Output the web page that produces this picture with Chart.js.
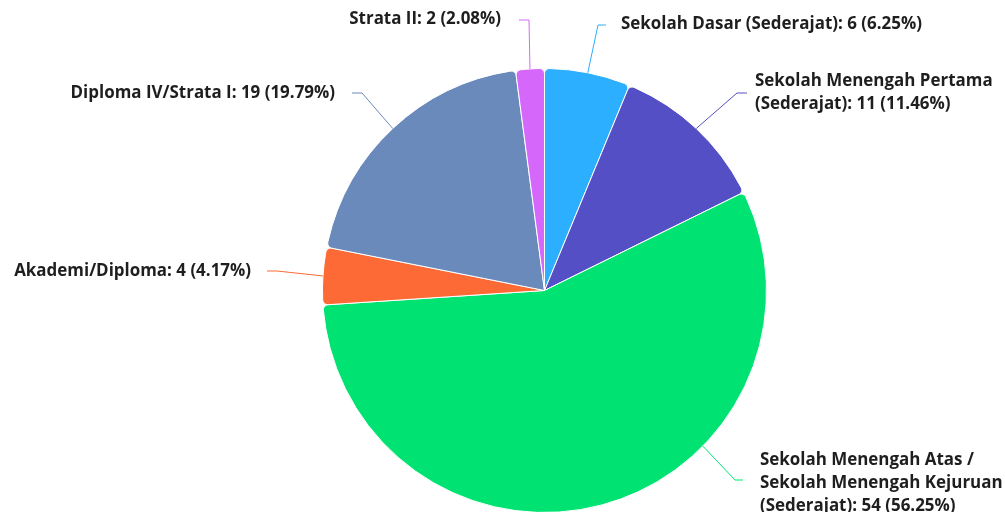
<!DOCTYPE html>
<html>
<head>
<meta charset="utf-8">
<script src="https://cdn.jsdelivr.net/npm/chart.js@4.4.1/dist/chart.umd.min.js"></script>
<style>
html,body{margin:0;padding:0;background:#fff;}
#wrap{width:1005px;height:512px;}
</style>
</head>
<body>
<div id="wrap"><canvas id="c" width="1005" height="512"></canvas></div>
<script>
const categories = [
  "Sekolah Dasar (Sederajat)",
  "Sekolah Menengah Pertama (Sederajat)",
  "Sekolah Menengah Atas / Sekolah Menengah Kejuruan (Sederajat)",
  "Akademi/Diploma",
  "Diploma IV/Strata I",
  "Strata II"
];
const values = [6, 11, 54, 4, 19, 2];
const percentLabels = ["6.25%", "11.46%", "56.25%", "4.17%", "19.79%", "2.08%"];
const labelLines = [
  ["Sekolah Dasar (Sederajat): 6 (6.25%)"],
  ["Sekolah Menengah Pertama", "(Sederajat): 11 (11.46%)"],
  ["Sekolah Menengah Atas /", "Sekolah Menengah Kejuruan", "(Sederajat): 54 (56.25%)"],
  ["Akademi/Diploma: 4 (4.17%)"],
  ["Diploma IV/Strata I: 19 (19.79%)"],
  ["Strata II: 2 (2.08%)"]
];
const colors = ["#2caffe", "#544fc5", "#00e272", "#fe6a35", "#6b8abc", "#d568fb"];

// label layout (positions only)
const layout = [
  {align:"left",  tx:621, ty:24, ex:606, ey:25, bx:598, by:25},
  {align:"left",  tx:755, ty:81, ex:747, ey:93, bx:737, by:93},
  {align:"left",  tx:760, ty:460, ex:743, ey:480, bx:735, by:480, startDeg:134.5},
  {align:"right", tx:251, ty:271, ex:267, ey:271, bx:277, by:271},
  {align:"right", tx:335, ty:93, ex:352, ey:93, bx:362, by:93},
  {align:"right", tx:501, ty:19, ex:519, ey:20, bx:529, by:20}
];
const lineHeight = 23;
const fontFamily = "'Open Sans', sans-serif";
const refWidth = 301; // target width of first label in px

const labelPlugin = {
  id: 'pieLabels',
  afterDatasetsDraw(chart) {
    const ctx = chart.ctx;
    ctx.save();
    ctx.font = "700 15px " + fontFamily;
    const w15 = ctx.measureText(labelLines[0][0]).width;
    let size = 15 * refWidth / w15;
    size = Math.max(13, Math.min(18, size));
    ctx.restore();
    const meta = chart.getDatasetMeta(0);
    meta.data.forEach((arc, i) => {
      const p = arc.getProps(['x','y','startAngle','endAngle','outerRadius'], true);
      const L = layout[i];
      let ang = (p.startAngle + p.endAngle) / 2;
      if (L.startDeg !== undefined) ang = (L.startDeg - 90) * Math.PI / 180;
      const sx = p.x + Math.cos(ang) * p.outerRadius;
      const sy = p.y + Math.sin(ang) * p.outerRadius;
      ctx.save();
      ctx.strokeStyle = colors[i];
      ctx.lineWidth = 1;
      ctx.beginPath();
      ctx.moveTo(sx, sy);
      ctx.lineTo(L.bx, L.by);
      ctx.lineTo(L.ex, L.ey);
      ctx.stroke();
      ctx.font = "700 " + size.toFixed(2) + "px " + fontFamily;
      ctx.textAlign = L.align;
      ctx.textBaseline = "middle";
      ctx.lineJoin = "round";
      labelLines[i].forEach((t, k) => {
        const y = L.ty + k * lineHeight;
        ctx.strokeStyle = "rgba(255,255,255,0.9)";
        ctx.lineWidth = 2;
        ctx.strokeText(t, L.tx, y);
        ctx.fillStyle = "#1e1e1e";
        ctx.fillText(t, L.tx, y);
      });
      ctx.restore();
    });
  }
};

new Chart(document.getElementById('c'), {
  type: 'pie',
  data: {
    labels: categories,
    datasets: [{
      data: values,
      backgroundColor: colors,
      borderColor: '#ffffff',
      borderWidth: 1,
      borderRadius: 5,
      clip: false
    }]
  },
  options: {
    responsive: false,
    animation: false,
    radius: 222,
    layout: { padding: { left: 84, right: 0, top: 69, bottom: 0 } },
    plugins: {
      legend: { display: false },
      tooltip: { enabled: false }
    }
  },
  plugins: [labelPlugin]
});
</script>
</body>
</html>
